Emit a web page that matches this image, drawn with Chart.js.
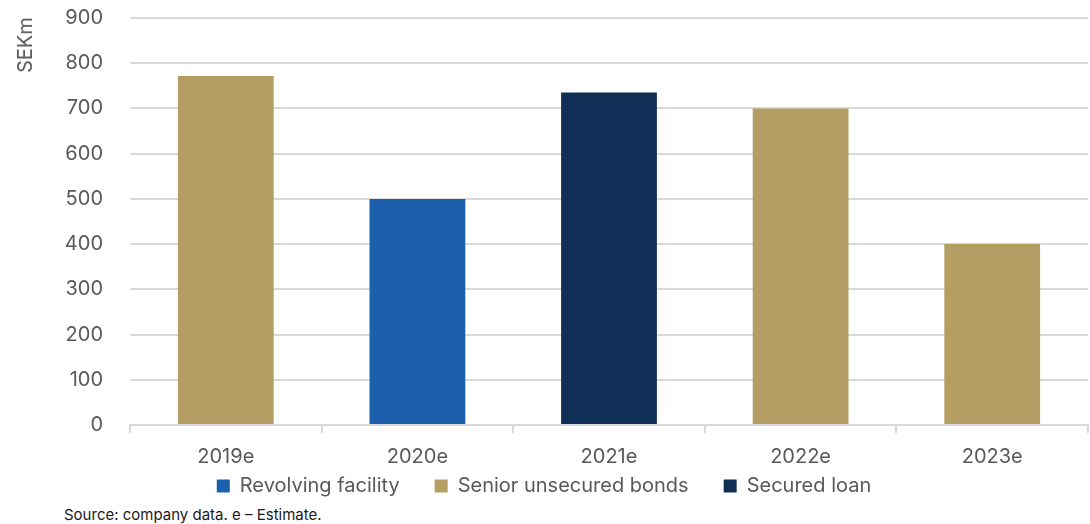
<!DOCTYPE html>
<html>
<head>
<meta charset="utf-8">
<script src="https://cdn.jsdelivr.net/npm/chart.js@4"></script>
<style>
  html, body { margin: 0; padding: 0; background: #fff; }
  #wrap { position: relative; width: 1090px; height: 524px; }
  #chart-box { position: absolute; left: 0; top: 0; width: 1090px; height: 499px; }
  #unit {
    position: absolute; left: 25px; top: 45px;
    transform: translate(-50%, -50%) rotate(-90deg);
    font: 20px Inter, sans-serif; color: #595959; white-space: nowrap;
  }
  #source {
    position: absolute; left: 64px; top: 505px;
    font: 15px Inter, sans-serif; color: #1a1a1a; white-space: nowrap;
  }
</style>
</head>
<body>
<div id="wrap">
  <div id="chart-box"><canvas id="debtChart"></canvas></div>
  <div id="unit">SEKm</div>
  <div id="source">Source: company data. e – Estimate.</div>
</div>
<script>
// maturity profile, SEKm
const years = ["2019e", "2020e", "2021e", "2022e", "2023e"];
const revolving = [null, 500, null, null, null];
const seniorBonds = [772, null, null, 700, 400];
const securedLoan = [null, null, 735, null, null];
const yTicks = [0, 100, 200, 300, 400, 500, 600, 700, 800, 900];

const gridGrey = "#d9d9d9";
const textGrey = "#595959";
const font = { family: "Inter, sans-serif", size: 20 };

const ctx = document.getElementById("debtChart");

// legend padding also sets the gap between items, so reserve little height
// for it and pull it up under the axis labels
const legendPlace = {
  id: "legendPlace",
  beforeInit(chart) {
    const fit = chart.legend.fit;
    chart.legend.fit = function () {
      fit.call(this);
      this.height = 22;
    };
  },
  afterLayout(chart) {
    const lg = chart.legend;
    lg.top = chart.chartArea.bottom + 16;
    lg.bottom = lg.top + 58;
  },
};

const debtChart = new Chart(ctx, {
  type: "bar",
  data: {
    labels: years,
    datasets: [
      { label: "Revolving facility", data: revolving, backgroundColor: "#1c5fad" },
      { label: "Senior unsecured bonds", data: seniorBonds, backgroundColor: "#b59e63" },
      { label: "Secured loan", data: securedLoan, backgroundColor: "#0f2f57" },
    ],
  },
  plugins: [legendPlace],
  options: {
    responsive: true,
    maintainAspectRatio: false,
    animation: false,
    categoryPercentage: 0.5,
    barPercentage: 1,
    layout: { padding: { top: 0, left: 0, right: 2, bottom: 0 } },
    plugins: {
      tooltip: { enabled: false },
      legend: {
        position: "bottom",
        labels: {
          boxWidth: 13,
          boxHeight: 13,
          padding: 35,
          color: textGrey,
          font: font,
        },
      },
    },
    scales: {
      x: {
        stacked: true,
        afterFit: (scale) => {
          scale.height = 52;
        },
        grid: {
          drawOnChartArea: false,
          drawTicks: true,
          tickLength: 8,
          color: gridGrey,
          lineWidth: 2,
        },
        border: { display: true, color: gridGrey, width: 2 },
        ticks: { color: textGrey, font: font, padding: 12 },
      },
      y: {
        stacked: true,
        min: 0,
        max: 900,
        afterBuildTicks: (scale) => {
          scale.ticks = yTicks.map((v) => ({ value: v }));
        },
        afterFit: (scale) => {
          scale.width = 130;
          scale.paddingTop = 18;
          scale.paddingBottom = 12;
        },
        grid: { color: gridGrey, lineWidth: 2, drawTicks: false },
        border: { display: false },
        ticks: { color: textGrey, font: font, padding: 27 },
      },
    },
  },
});
</script>
</body>
</html>
